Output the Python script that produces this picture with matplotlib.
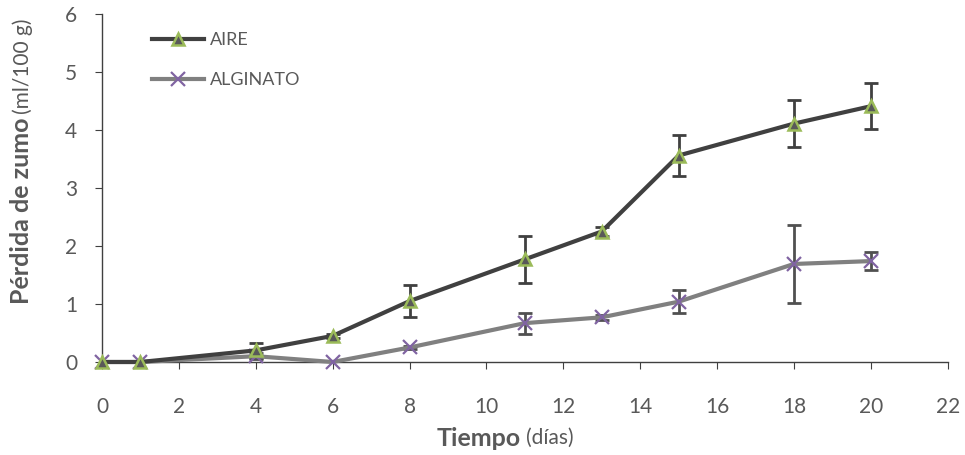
import matplotlib.pyplot as plt

dias = [0, 1, 4, 6, 8, 11, 13, 15, 18, 20]
aire = [0, 0, 0.2, 0.45, 1.05, 1.77, 2.25, 3.56, 4.11, 4.41]
aire_err = [0, 0, 0.13, 0.03, 0.28, 0.40, 0.08, 0.35, 0.40, 0.40]
alginato = [0, 0, 0.1, 0, 0.25, 0.67, 0.77, 1.04, 1.69, 1.74]
alginato_err = [0, 0, 0.05, 0, 0.03, 0.18, 0.04, 0.20, 0.68, 0.15]

xticks = list(range(0, 23, 2))
yticks = list(range(0, 7))

plt.rcParams['font.family'] = ['Lato', 'DejaVu Sans']
gris = '#595959'

fig = plt.figure(figsize=(9.65, 4.55), dpi=100)
ax = fig.add_axes([0.1057, 0.2044, 0.8763, 0.7648])

ax.errorbar(dias, aire, yerr=aire_err, fmt='none', ecolor='#404040',
            elinewidth=2, capsize=5, capthick=2, zorder=2)
ax.errorbar(dias, alginato, yerr=alginato_err, fmt='none', ecolor='#505050',
            elinewidth=2, capsize=5, capthick=2, zorder=2)

l1, = ax.plot(dias, aire, color='#404040', lw=3, marker='^', ms=9,
              mfc='#595959', mec='#9BBB59', mew=1.8, label='AIRE', zorder=4,
              clip_on=False)
l2, = ax.plot(dias, alginato, color='#808080', lw=3, marker='x', ms=10,
              mec='#8064A2', mew=1.6, label='ALGINATO', zorder=3,
              clip_on=False)

ax.set_xlim(0, 22)
ax.set_ylim(0, 6)
ax.set_xticks(xticks)
ax.set_yticks(yticks)
ax.spines['top'].set_visible(False)
ax.spines['right'].set_visible(False)
for s in ['left', 'bottom']:
    ax.spines[s].set_color('#404040')
    ax.spines[s].set_linewidth(1)
ax.tick_params(axis='both', colors='#404040', labelcolor=gris, labelsize=15,
               length=5, direction='out')
ax.tick_params(axis='y', pad=13)
ax.tick_params(axis='x', pad=20)

ax.legend(handles=[l1, l2], loc='upper left',
          bbox_to_anchor=(152 / 965, 1 - 32 / 455), bbox_transform=fig.transFigure,
          borderaxespad=0, borderpad=0,
          frameon=False, fontsize=13, labelcolor=gris, handlelength=2.9,
          handletextpad=0.3, labelspacing=1.33)

# etiquetas de ejes con parte en negrita
t1 = fig.text(22 / 965, 1 - 304 / 455, 'Pérdida de zumo', rotation=90,
              ha='center', va='bottom', fontsize=18, fontweight='bold', color=gris)
fig.canvas.draw()
bb = t1.get_window_extent().transformed(fig.transFigure.inverted())
fig.text(23 / 965, bb.y1 + 0.008, '(ml/100 g)', rotation=90,
         ha='center', va='bottom', fontsize=15, color=gris)

fig.text(521 / 965, 1 - 438 / 455, 'Tiempo', ha='right', va='center',
         fontsize=18, fontweight='bold', color=gris)
fig.text(526 / 965, 1 - 438 / 455, '(días)', ha='left', va='center',
         fontsize=15, color=gris)

plt.savefig('out.png', dpi=100)
